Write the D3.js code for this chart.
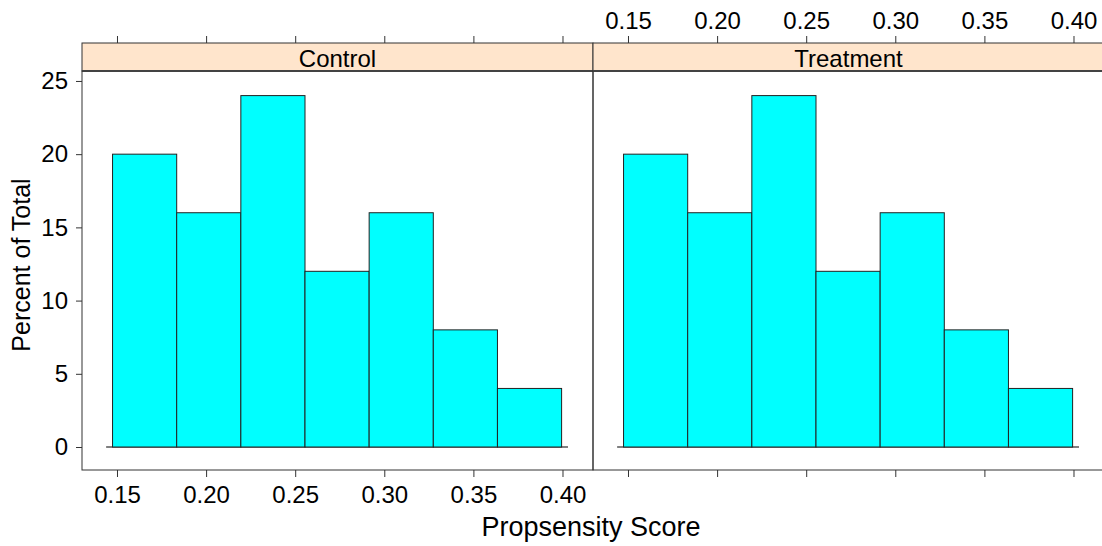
<!DOCTYPE html>
<html>
<head>
<meta charset="utf-8">
<script src="https://cdn.jsdelivr.net/npm/d3@7"></script>
<style>
  body { margin: 0; background: #fff; }
  svg { display: block; font-family: "Liberation Sans", Arial, sans-serif; }
</style>
</head>
<body>
<script>
// histogram data
const panels = ["Control", "Treatment"];
const binEdges = [0.1475, 0.1835, 0.2195, 0.2555, 0.2915, 0.3275, 0.3635, 0.3995];
const controlPct = [20, 16, 24, 12, 16, 8, 4];
const treatmentPct = [20, 16, 24, 12, 16, 8, 4];
const xTicks = [0.15, 0.20, 0.25, 0.30, 0.35, 0.40];
const yTicks = [0, 5, 10, 15, 20, 25];

const w = 1102;
const h = 546;
const panelW = 511;
const panelLeft = [82, 593];
const stripTop = 43;
const stripH = 28;
const plotTop = stripTop + stripH;
const plotBottom = 470;
const lineCol = '#333';

const xScale = d3.scaleLinear()
  .domain([0.13036, 0.41712])
  .range([0, panelW]);

const yScale = d3.scaleLinear()
  .domain([-1.57, 25.68])
  .range([plotBottom - plotTop, 0]);

const svg = d3.select('body')
  .append('svg')
  .attr('width', w)
  .attr('height', h);

const seriesByPanel = [controlPct, treatmentPct];

panels.forEach((name, p) => {
  const g = svg.append('g')
    .attr('transform', 'translate(' + panelLeft[p] + ', ' + plotTop + ')');

  const bins = seriesByPanel[p].map((v, i) => ({ x0: binEdges[i], x1: binEdges[i + 1], v: v }));

  // line at zero, a bit wider than the bars
  const pad = (binEdges[1] - binEdges[0]) * 0.1;
  g.append('line')
    .attr('x1', xScale(binEdges[0] - pad))
    .attr('x2', xScale(binEdges[binEdges.length - 1] + pad))
    .attr('y1', yScale(0))
    .attr('y2', yScale(0))
    .attr('stroke', '#555')
    .attr('stroke-width', 1.5);

  g.selectAll('rect.bar')
    .data(bins)
    .enter()
    .append('rect')
    .attr('class', 'bar')
    .attr('x', d => xScale(d.x0))
    .attr('width', d => xScale(d.x1) - xScale(d.x0))
    .attr('y', d => yScale(d.v))
    .attr('height', d => yScale(0) - yScale(d.v))
    .attr('fill', '#00FFFF')
    .attr('stroke', '#222')
    .attr('stroke-width', 1);

  // strip
  svg.append('rect')
    .attr('x', panelLeft[p])
    .attr('y', stripTop)
    .attr('width', panelW)
    .attr('height', stripH)
    .attr('fill', '#FFE5CC')
    .attr('stroke', lineCol)
    .attr('stroke-width', 1);

  svg.append('line')
    .attr('x1', panelLeft[p])
    .attr('x2', panelLeft[p] + panelW)
    .attr('y1', plotTop)
    .attr('y2', plotTop)
    .attr('stroke', '#555')
    .attr('stroke-width', 2);

  svg.append('text')
    .attr('x', panelLeft[p] + panelW / 2)
    .attr('y', stripTop + 23.5)
    .attr('text-anchor', 'middle')
    .attr('font-size', 24)
    .attr('fill', '#000')
    .text(name);

  // panel border
  svg.append('rect')
    .attr('x', panelLeft[p])
    .attr('y', plotTop)
    .attr('width', panelW)
    .attr('height', plotBottom - plotTop)
    .attr('fill', 'none')
    .attr('stroke', lineCol)
    .attr('stroke-width', 1);

  // x axes: labels bottom on first panel, top on second
  const bottomAxis = d3.axisBottom(xScale)
    .tickValues(xTicks)
    .tickSize(7)
    .tickPadding(9)
    .tickFormat(p === 0 ? d3.format('.2f') : '');
  const topAxis = d3.axisTop(xScale)
    .tickValues(xTicks)
    .tickSize(7)
    .tickPadding(7)
    .tickFormat(p === 1 ? d3.format('.2f') : '');

  svg.append('g')
    .attr('transform', 'translate(' + panelLeft[p] + ', ' + plotBottom + ')')
    .call(bottomAxis);
  svg.append('g')
    .attr('transform', 'translate(' + panelLeft[p] + ', ' + stripTop + ')')
    .call(topAxis);
});

const yAxis = d3.axisLeft(yScale)
  .tickValues(yTicks)
  .tickSize(6)
  .tickPadding(8)
  .tickFormat(d3.format('d'));

svg.append('g')
  .attr('transform', 'translate(' + panelLeft[0] + ', ' + plotTop + ')')
  .call(yAxis);

svg.selectAll('.domain').remove();
svg.selectAll('.tick line').attr('stroke', lineCol);
svg.selectAll('.tick text')
  .attr('font-size', 24)
  .attr('font-family', '"Liberation Sans", Arial, sans-serif')
  .attr('fill', '#000');

svg.append('text')
  .attr('x', 591)
  .attr('y', 536)
  .attr('text-anchor', 'middle')
  .attr('font-size', 27)
  .text('Propsensity Score');

svg.append('text')
  .attr('transform', 'translate(30, 265) rotate(-90)')
  .attr('text-anchor', 'middle')
  .attr('font-size', 25)
  .text('Percent of Total');
</script>
</body>
</html>
